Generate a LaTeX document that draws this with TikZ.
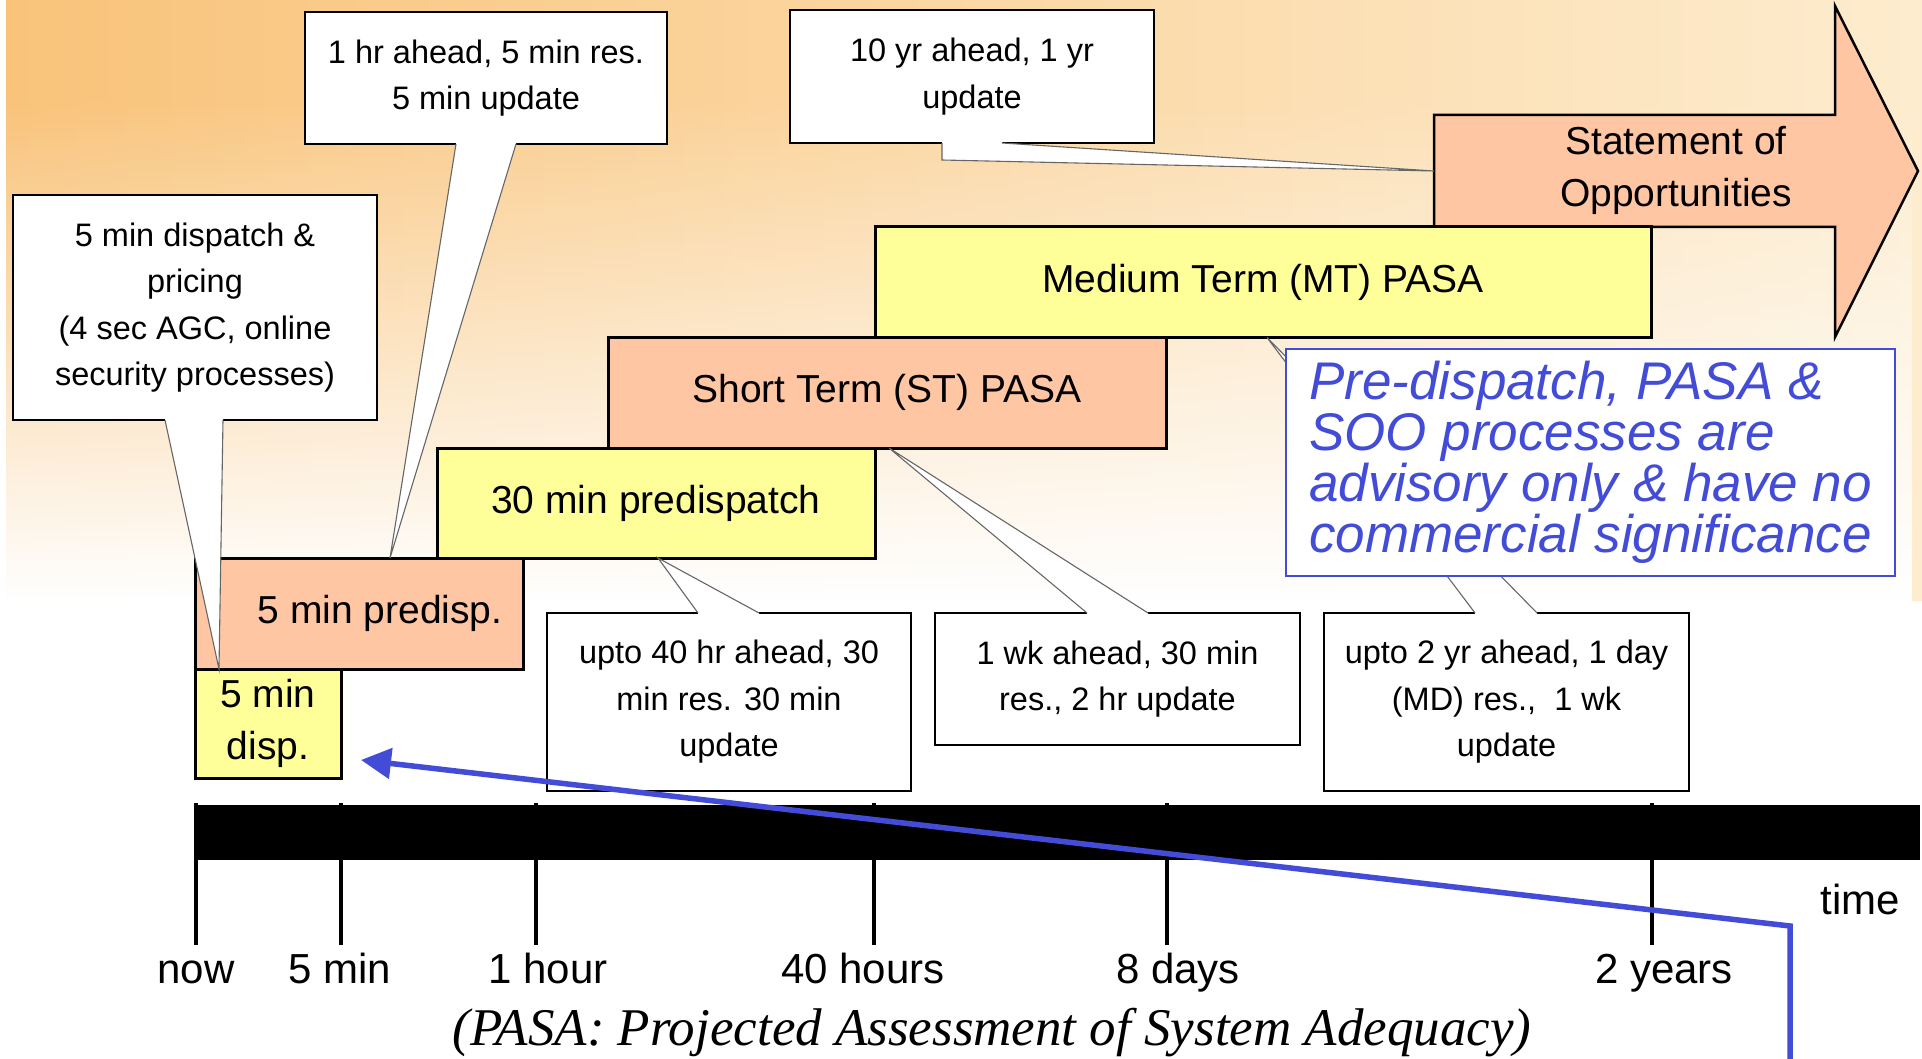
\documentclass[tikz,border=0pt]{standalone}
\usepackage{fontspec}
\setmainfont{Liberation Sans}
\newfontfamily\capserif{Liberation Serif}
\usetikzlibrary{arrows.meta,fadings,calc}
\definecolor{bgL}{RGB}{249,195,122}
\definecolor{bgR}{RGB}{253,236,206}
\definecolor{boxY}{RGB}{255,255,153}
\definecolor{boxS}{RGB}{255,198,163}
\definecolor{noteblue}{RGB}{66,76,214}
\tikzfading[name=fadedown, top color=transparent!100, bottom color=transparent!0]
\newcommand\bigtxt{\fontsize{39}{52}\selectfont}
\newcommand\smalltxt{\fontsize{32.5}{46.5}\selectfont}
\newcommand\ticktxt{\fontsize{42}{50}\selectfont}
\newcommand\notetxt{\fontsize{53}{51}\selectfont\itshape}
\tikzset{
  cbox/.style={draw=black, line width=1.6pt, fill=white, inner sep=0pt, outer sep=0pt, align=center, font=\smalltxt},
  ybox/.style={draw=black, line width=3pt, fill=boxY, inner sep=0pt, outer sep=0pt, align=center, font=\bigtxt},
  sbox/.style={draw=black, line width=3pt, fill=boxS, inner sep=0pt, outer sep=0pt, align=center, font=\bigtxt},
  tailline/.style={draw=black!60, line width=1.1pt},
  tickline/.style={line width=4pt},
  ticklab/.style={anchor=base, font=\ticktxt},
  bluearr/.style={draw=noteblue, line width=5.5pt, line join=miter, -{Triangle[length=30pt,width=30pt]}},
}
\begin{document}
\begin{tikzpicture}[x=1pt,y=-1pt]
\useasboundingbox (0,0) rectangle (1922,1059);
% background
\fill[white] (0,0) rectangle (1922,1059);
\shade[left color=bgL, right color=bgR] (6,0) rectangle (1922,600);
\fill[white, path fading=fadedown] (6,100) rectangle (1922,601);

% Statement of Opportunities arrow
\draw[line width=2.5pt, fill=boxS] (1434,115) -- (1835,115) -- (1835,6) -- (1918,171) -- (1835,337) -- (1835,227) -- (1434,227) -- cycle;
\coordinate (sooL) at (1434,171);
\node[font=\bigtxt, align=center] (soo) at (1676,170) {Statement of\\Opportunities};

% stair boxes
\node[ybox, minimum width=776, minimum height=110.5] (mt) at (1263,282.25) {Medium Term (MT) PASA};
\node[sbox, minimum width=558, minimum height=110.5] (st) at (887,392.75) {Short Term (ST) PASA};
\node[ybox, minimum width=438, minimum height=110] (p30) at (656,503) {30 min predispatch};
\node[sbox, minimum width=328, minimum height=111] (pd5) at (359,613.5) {};
\node[font=\bigtxt] (pd5t) at (380,613.5) {5 min predisp.};
\node[ybox, minimum width=146, minimum height=109] (d5) at (268,723.5) {5 min\\disp.};

% callout boxes
\node[cbox, minimum width=362, minimum height=132] (h1) at (486,78) {1 hr ahead, 5 min res.\\5 min update};
\node[cbox, minimum width=364, minimum height=225] (dp) at (195,307.5) {5 min dispatch \&\\pricing\\(4 sec AGC, online\\security processes)};
\node[cbox, minimum width=364, minimum height=133] (y10) at (972,76.5) {10 yr ahead, 1 yr\\update};
\node[cbox, minimum width=364, minimum height=178] (h40) at (729,702) {upto 40 hr ahead, 30\\min res. 30 min\\update};
\node[cbox, minimum width=365, minimum height=132] (wk1) at (1117.5,679) {1 wk ahead, 30 min\\res., 2 hr update};
\node[cbox, minimum width=365, minimum height=178] (yr2) at (1506.5,702) {upto 2 yr ahead, 1 day\\(MD) res.,~ 1 wk\\update};

% callout tails
% 1 hr ahead -> 5 min predisp
\coordinate (a1) at ($(h1.south west)+(151,0)$);
\coordinate (b1) at ($(h1.south west)+(211,0)$);
\coordinate (t1) at ($(pd5.north west)+(195,0)$);
\fill[white] ($(a1)+(0,-3)$) -- (a1) -- (t1) -- (b1) -- ($(b1)+(0,-3)$) -- cycle;
\draw[tailline] (a1) -- (t1) -- (b1);
% 5 min dispatch -> 5 min disp
\coordinate (a2) at ($(dp.south west)+(152,0)$);
\coordinate (b2) at ($(dp.south west)+(210,0)$);
\coordinate (t2) at ($(d5.north west)+(24,0)$);
\fill[white] ($(a2)+(0,-3)$) -- (a2) -- (t2) -- (b2) -- ($(b2)+(0,-3)$) -- cycle;
\draw[tailline] (a2) -- (t2) -- (b2);
% 10 yr -> Statement of Opportunities
\coordinate (a3) at ($(y10.south west)+(152,0)$);
\coordinate (a3b) at ($(y10.south west)+(152,17)$);
\coordinate (b3) at ($(y10.south west)+(212,0)$);
\fill[white] ($(a3)+(0,-3)$) -- (a3) -- (a3b) -- (sooL) -- (b3) -- ($(b3)+(0,-3)$) -- cycle;
\draw[tailline] (a3) -- (a3b) -- (sooL) -- (b3);
% upto 40 hr -> 30 min predispatch
\coordinate (a4) at ($(h40.north west)+(151,0)$);
\coordinate (b4) at ($(h40.north west)+(212,0)$);
\coordinate (t4) at ($(p30.south west)+(221,0)$);
\fill[white] ($(a4)+(0,3)$) -- (a4) -- (t4) -- (b4) -- ($(b4)+(0,3)$) -- cycle;
\draw[tailline] (a4) -- (t4) -- (b4);
% 1 wk -> ST PASA
\coordinate (a5) at ($(wk1.north west)+(152,0)$);
\coordinate (b5) at ($(wk1.north west)+(213,0)$);
\coordinate (t5) at ($(st.south west)+(281,0)$);
\fill[white] ($(a5)+(0,3)$) -- (a5) -- (t5) -- (b5) -- ($(b5)+(0,3)$) -- cycle;
\draw[tailline] (a5) -- (t5) -- (b5);
% upto 2 yr -> MT PASA
\coordinate (a6) at ($(yr2.north west)+(151,0)$);
\coordinate (b6) at ($(yr2.north west)+(213,0)$);
\coordinate (t6) at ($(mt.south west)+(392,0)$);
\fill[white] ($(a6)+(0,3)$) -- (a6) -- (t6) -- (b6) -- ($(b6)+(0,3)$) -- cycle;
\draw[tailline] (a6) -- (t6) -- (b6);

% advisory note
\node[draw=noteblue, line width=2.5pt, fill=white, text=noteblue, font=\notetxt, align=left,
      inner sep=0pt, outer sep=0pt, minimum width=609, minimum height=227] (note) at (1590.5,462.5)
  {Pre-dispatch, PASA \&\\SOO processes are\\advisory only \& have no\\commercial significance};

% timeline
\node[fill=black, inner sep=0pt, outer sep=0pt, minimum width=1725, minimum height=55] (axis) at (1057.5,832.5) {};
\foreach \x in {196,341,536,874,1167,1652} \draw[tickline] (\x,803) -- (\x,945);
\node[ticklab] (lnow) at (196,983) {now};
\node[ticklab] (l5m) at (340,983) {5 min};
\node[ticklab] (l1h) at (548,983) {1 hour};
\node[ticklab] (l40h) at (863,983) {40 hours};
\node[ticklab] (l8d) at (1178,983) {8 days};
\node[ticklab] (l2y) at (1664,983) {2 years};
\node[ticklab] (ltime) at (1860,914) {time};

% caption
\node[anchor=base, font={\capserif\fontsize{53}{60}\selectfont\itshape}] (cap) at (992,1045) {(PASA: Projected Assessment of System Adequacy)};

% blue pointer
\coordinate (pstart) at (1790,1066);
\coordinate (pbend) at (1790,926);
\draw[bluearr] (pstart) -- (pbend) -- ($(d5.south east)+(20,-18)$);
\end{tikzpicture}
\end{document}
